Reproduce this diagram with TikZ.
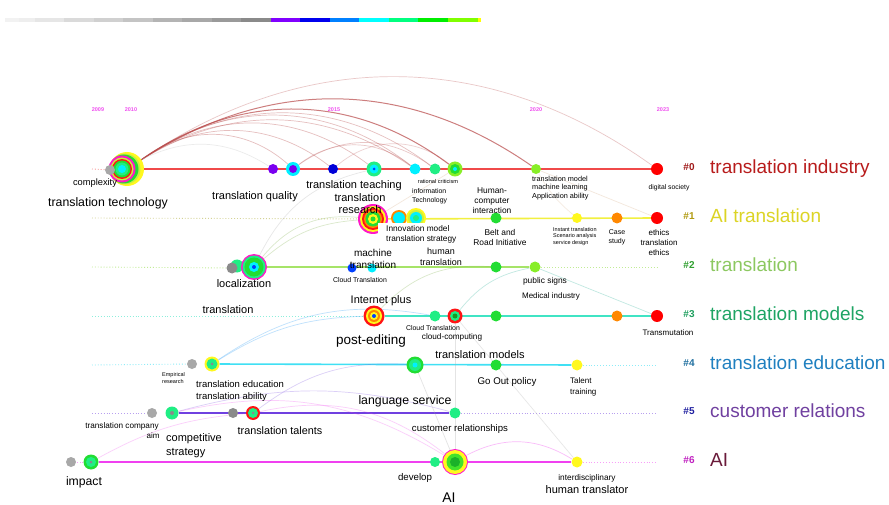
\documentclass[tikz,border=0pt]{standalone}
\usepackage{fontspec}
\setmainfont{Liberation Sans}
\pgfdeclarelayer{back}
\pgfdeclarelayer{bg}
\pgfsetlayers{back,bg,main}
\newcommand\fs[2]{\fontsize{#1}{#2}\selectfont}
\newcommand\cnode[5]{%
  \foreach \rr/\cc in {#5}{\fill[fill=\cc] (#2,#3) circle[radius=\rr pt];}%
  \node[circle,inner sep=0pt,minimum size=2*#4pt] (#1) at (#2,#3) {};}
\definecolor{cYel}{HTML}{FFF81E}
\definecolor{cLime}{HTML}{C8F040}
\definecolor{cGrn}{HTML}{22DD33}
\definecolor{cRed}{HTML}{FF1414}
\definecolor{cMag}{HTML}{FF18C8}
\definecolor{cSpr}{HTML}{20EE84}
\definecolor{cCyan}{HTML}{00F0FF}
\definecolor{cBlue}{HTML}{0040FF}
\definecolor{cPur}{HTML}{7A00F0}
\definecolor{cDblue}{HTML}{0000D8}
\definecolor{cOra}{HTML}{FF8800}
\definecolor{cGray}{HTML}{A8A8A8}
\definecolor{cDgray}{HTML}{8A8A8A}
\definecolor{cLgrn}{HTML}{88EE28}
\definecolor{yrmag}{HTML}{F050F0}
\definecolor{arcred}{HTML}{B84848}
\definecolor{k0}{HTML}{A01818}\definecolor{k0n}{HTML}{B81C1C}
\definecolor{k1}{HTML}{B09A10}\definecolor{k1n}{HTML}{DCD424}
\definecolor{k2}{HTML}{30A030}\definecolor{k2n}{HTML}{8CC860}
\definecolor{k3}{HTML}{20A060}\definecolor{k3n}{HTML}{1EA464}
\definecolor{k4}{HTML}{2070A0}\definecolor{k4n}{HTML}{1F80C0}
\definecolor{k5}{HTML}{2020A0}\definecolor{k5n}{HTML}{7040A0}
\definecolor{k6}{HTML}{C020C0}\definecolor{k6n}{HTML}{6A1A3A}
\definecolor{t0}{HTML}{F04A4A}
\definecolor{t1}{HTML}{F2F040}
\definecolor{t2}{HTML}{A6E468}
\definecolor{t3}{HTML}{40E4C4}
\definecolor{t4}{HTML}{40E0F4}
\definecolor{t5}{HTML}{7040E0}
\definecolor{t6}{HTML}{F040F0}
\begin{document}
\begin{tikzpicture}[x=1pt,y=-1pt,
  lb/.style={inner sep=0pt,align=center,text=black},
  yr/.style={inner sep=0pt,font=\fs{5.5}{6}\bfseries,text=yrmag},
  hk/.style={inner sep=0pt,anchor=base,font=\fs{10}{12}\bfseries},
  cn/.style={inner sep=0pt,anchor=base west,font=\fs{19}{22}},
  tl/.style={line width=1.6pt},
  dt/.style={line width=0.9pt,dotted},
  arc0/.style={draw=arcred,line width=0.7pt,opacity=0.35},
  arcd/.style={draw=arcred,line width=1pt,opacity=0.7},
  fnt/.style={line width=0.7pt,opacity=0.3}]
\useasboundingbox (0,0) rectangle (889,505);
\begin{pgfonlayer}{back}
\fill[white] (0,0) rectangle (889,505);
\end{pgfonlayer}
% colour bar
\fill[fill={rgb,255:red,242;green,242;blue,242}] (4.7,18) rectangle (19.3,21.7);
\fill[fill={rgb,255:red,238;green,238;blue,238}] (19.3,18) rectangle (34.7,21.7);
\fill[fill={rgb,255:red,230;green,230;blue,230}] (34.7,18) rectangle (64,21.7);
\fill[fill={rgb,255:red,218;green,218;blue,218}] (64,18) rectangle (93.7,21.7);
\fill[fill={rgb,255:red,208;green,208;blue,208}] (93.7,18) rectangle (123.3,21.7);
\fill[fill={rgb,255:red,196;green,196;blue,196}] (123.3,18) rectangle (152.7,21.7);
\fill[fill={rgb,255:red,180;green,180;blue,180}] (152.7,18) rectangle (182.3,21.7);
\fill[fill={rgb,255:red,168;green,168;blue,168}] (182.3,18) rectangle (211.7,21.7);
\fill[fill={rgb,255:red,154;green,154;blue,154}] (211.7,18) rectangle (241.3,21.7);
\fill[fill={rgb,255:red,138;green,138;blue,138}] (241.3,18) rectangle (270.7,21.7);
\fill[fill={rgb,255:red,128;green,0;blue,255}] (270.7,18) rectangle (300.3,21.7);
\fill[fill={rgb,255:red,0;green,0;blue,238}] (300.3,18) rectangle (329.7,21.7);
\fill[fill={rgb,255:red,0;green,128;blue,255}] (329.7,18) rectangle (359.3,21.7);
\fill[fill={rgb,255:red,0;green,255;blue,255}] (359.3,18) rectangle (389,21.7);
\fill[fill={rgb,255:red,0;green,255;blue,128}] (389,18) rectangle (418.3,21.7);
\fill[fill={rgb,255:red,0;green,238;blue,0}] (418.3,18) rectangle (448,21.7);
\fill[fill={rgb,255:red,128;green,255;blue,0}] (448,18) rectangle (477.7,21.7);
\fill[fill={rgb,255:red,255;green,255;blue,0}] (477.7,18) rectangle (481.3,21.7);
% years
\node[yr] (y09) at (98,110) {2009};
\node[yr] (y10) at (131,110) {2010};
\node[yr] (y15) at (334,110) {2015};
\node[yr] (y20) at (536,110) {2020};
\node[yr] (y23) at (663,110) {2023};
% line end coordinates
\foreach \k/\yy in {0/169,1/218,2/267,3/316,4/365,5/413,6/462}{
  \coordinate (s\k) at (92,\yy); \coordinate (e\k) at (657,\yy);}
% ---------- row 0 nodes
\fill[cYel] (127,169) circle[radius=17pt];
\fill[cLime] (125,169) circle[radius=15.5pt];
\fill[cGrn] (124,169) circle[radius=14.5pt];
\cnode{big0}{122}{169}{13.5}{13.5/cMag,11.5/cLime,10/cRed,8.5/cGrn,6.5/cSpr,4/cCyan}
\cnode{g0a}{110}{170}{5}{5/cGray}
\cnode{n0b}{273}{169}{5}{5/cPur}
\cnode{n0c}{293}{169}{7}{7/cCyan,4/cPur}
\cnode{n0d}{333}{169}{5}{5/cDblue}
\cnode{n0e}{374}{169}{7.5}{7.5/cSpr,4.5/cCyan,1.5/cBlue}
\cnode{n0f}{415}{169}{5.5}{5.5/cCyan}
\cnode{n0g}{435}{169}{5.5}{5.5/cSpr}
\cnode{n0h}{455}{169}{7.5}{7.5/cLgrn,5/cGrn,2/cCyan}
\cnode{n0i}{536}{169}{5}{5/cLgrn}
\cnode{n0j}{657}{169}{6}{6/red}
\coordinate (a0) at (141,160);
% ---------- row 1 nodes
\cnode{big1}{373}{219}{15}{15/cMag,13/cYel,11/cRed,9/cOra,7.5/cGrn,5/cYel,2.5/cGrn}
\cnode{n1b}{399}{218}{8}{8/cOra,6/cCyan}
\cnode{n1c}{416}{218}{10}{10/cYel,8/cLime,6/cCyan,3/cSpr}
\cnode{n1d}{496}{218}{5.5}{5.5/cGrn}
\cnode{n1e}{577}{218}{5}{5/cYel}
\cnode{n1f}{617}{218}{5.5}{5.5/cOra}
\cnode{n1g}{657}{218}{6}{6/red}
% ---------- row 2 nodes
\cnode{n2s}{237}{266}{6.5}{6.5/cSpr}
\cnode{g2a}{232}{268}{5.5}{5.5/cDgray}
\cnode{big2}{254}{267}{13}{13/cMag,11.5/cSpr,9.5/cGrn,5/cCyan,2/cBlue}
\cnode{n2b}{352}{268}{4.5}{4.5/cBlue}
\cnode{n2c}{372}{268}{4.5}{4.5/cCyan}
\cnode{n2d}{496}{267}{5.5}{5.5/cGrn}
\cnode{n2e}{535}{267}{5.5}{5.5/cLgrn}
% ---------- row 3 nodes
\cnode{big3}{374}{316}{10.5}{10.5/cRed,8/cYel,6/cOra,4/cYel,2/cBlue}
\cnode{n3b}{435}{316}{5.5}{5.5/cSpr}
\cnode{n3c}{455}{316}{7.5}{7.5/cRed,5/cSpr,2.5/cGrn!70!black}
\cnode{n3d}{496}{316}{5.5}{5.5/cGrn}
\cnode{n3e}{617}{316}{5.5}{5.5/cOra}
\cnode{n3f}{657}{316}{6}{6/red}
% ---------- row 4 nodes
\cnode{g4a}{192}{364}{5}{5/cGray}
\cnode{n4b}{212}{364}{7.5}{7.5/cYel,5.5/cSpr,1.5/cDgray}
\cnode{n4c}{415}{365}{8.5}{8.5/cGrn,6/cSpr,2.5/cCyan}
\cnode{n4d}{496}{365}{5.5}{5.5/cGrn}
\cnode{n4e}{577}{365}{5.5}{5.5/cYel}
% ---------- row 5 nodes
\cnode{g5a}{152}{413}{5}{5/cGray}
\cnode{n5b}{172}{413}{6.5}{6.5/cSpr,2/cDgray}
\cnode{g5c}{233}{413}{5}{5/cDgray}
\cnode{n5d}{253}{413}{7}{7/cRed,5/cSpr,1.5/cDgray}
\cnode{n5e}{455}{413}{5.5}{5.5/cSpr}
% ---------- row 6 nodes
\cnode{g6a}{71}{462}{5}{5/cGray}
\cnode{n6b}{91}{462}{7.5}{7.5/cGrn,5/cSpr,1.5/cDgray}
\cnode{n6c}{435}{462}{5}{5/cSpr}
\cnode{big6}{455}{462}{13}{13/cMag,12/cYel,8.5/cGrn!85!yellow,5/cGrn!80!black}
\cnode{n6e}{577}{462}{5.5}{5.5/cYel}
% ---------- labels row 0
\node[lb,font=\fs{9.3}{11}] (lCx) at (95,183) {complexity};
\node[lb,font=\fs{12.3}{14}] (lTT) at (108,203) {translation technology};
\node[lb,font=\fs{11}{13}] (lTQ) at (255,197) {translation quality};
\node[lb,font=\fs{11}{13}] (lTTe) at (354,186) {translation teaching};
\node[lb,font=\fs{11}{13}] (lTr) at (360,197.5) {translation};
\node[lb,font=\fs{11}{13}] (lRe) at (360,210) {research};
\node[lb,font=\fs{5.6}{7}] (lRC) at (438,181) {rational criticism};
\node[lb,align=left,anchor=west,font=\fs{6.9}{9}] (lIT) at (412,196.5) {information\\Technology};
\node[lb,font=\fs{8.4}{10.3}] (lHCI) at (492,200.5) {Human-\\computer\\interaction};
\node[lb,align=left,anchor=west,font=\fs{7.3}{8.5}] (lTMl) at (532,188) {translation model\\machine learning\\Application ability};
\node[lb,font=\fs{6.8}{8}] (lDS) at (669,188) {digital society};
% ---------- labels row 1
\node[lb,align=left,anchor=north west,fill=white,inner xsep=8pt,inner ysep=3pt,font=\fs{8.3}{10}] (lIM) at (378,222.5) {Innovation model\\translation strategy};
\node[lb,font=\fs{8.4}{10}] (lBR) at (500,237) {Belt and\\Road Initiative};
\node[lb,align=left,anchor=west,font=\fs{5.5}{6.5}] (lIS) at (553,236.5) {Instant translation\\Scenario analysis\\service design};
\node[lb,font=\fs{7}{9}] (lCS) at (617,237.5) {Case\\study};
\node[lb,font=\fs{8}{10}] (lEth) at (659,243) {ethics\\translation\\ethics};
% ---------- labels row 2
\node[lb,font=\fs{11}{13}] (lLoc) at (244,283.5) {localization};
\node[lb,font=\fs{10}{11.5}] (lMT) at (373,259) {machine\\translation};
\node[lb,font=\fs{9}{11}] (lHT) at (441,256.5) {human\\translation};
\node[lb,font=\fs{6.9}{8}] (lCT) at (360,280) {Cloud Translation};
\node[lb,font=\fs{8.4}{10}] (lPS) at (545,281) {public signs};
\node[lb,font=\fs{8}{10}] (lMI) at (551,296) {Medical industry};
% ---------- labels row 3
\node[lb,fill=white,inner xsep=3pt,inner ysep=2pt,font=\fs{11}{13}] (lTr3) at (228,309.5) {translation};
\node[lb,font=\fs{11}{13}] (lIP) at (381,301) {Internet plus};
\node[lb,font=\fs{13.5}{15}] (lPE) at (371,341) {post-editing};
\node[lb,font=\fs{6.9}{8}] (lCT3) at (433,328) {Cloud Translation};
\node[lb,font=\fs{8.2}{10}] (lCC) at (452,337) {cloud-computing};
\node[lb,font=\fs{8}{10}] (lTrm) at (668,333) {Transmutation};
% ---------- labels row 4
\node[lb,align=left,anchor=west,font=\fs{5.5}{7}] (lER) at (162,378.5) {Empirical\\research};
\node[lb,align=left,anchor=west,font=\fs{9.5}{12}] (lTE) at (196,391) {translation education\\translation ability};
\node[lb,font=\fs{11}{13}] (lTMo) at (480,355) {translation models};
\node[lb,font=\fs{9.7}{11}] (lGO) at (507,382) {Go Out policy};
\node[lb,align=left,anchor=west,font=\fs{8}{11}] (lTa) at (570,386.5) {Talent\\training};
% ---------- labels row 5
\node[lb,font=\fs{8.2}{10}] (lTC) at (122,426) {translation company};
\node[lb,font=\fs{8}{10}] (lAim) at (153,436) {aim};
\node[lb,align=left,anchor=west,font=\fs{11}{14}] (lCo) at (166,446) {competitive\\strategy};
\node[lb,font=\fs{10.8}{13}] (lTal) at (280,431) {translation talents};
\node[lb,font=\fs{12.3}{14}] (lLS) at (405,401) {language service};
\node[lb,font=\fs{9.6}{11}] (lCR) at (460,429) {customer relationships};
% ---------- labels row 6
\node[lb,font=\fs{12.2}{14}] (lImp) at (84,482) {impact};
\node[lb,font=\fs{9.7}{11}] (lDev) at (415,478) {develop};
\node[lb,font=\fs{14}{16}] (lAI) at (449,498) {AI};
\node[lb,font=\fs{8.3}{10}] (lID) at (587,478) {interdisciplinary};
\node[lb,font=\fs{11}{13}] (lHTr) at (587,490) {human translator};
% ---------- cluster labels
\node[hk,text=k0] (h0) at (689,170.5) {\#0};
\node[cn,text=k0n] (c0) at (710,173.5) {translation industry};
\node[hk,text=k1] (h1) at (689,219.5) {\#1};
\node[cn,text=k1n] (c1) at (710,222.5) {AI translation};
\node[hk,text=k2] (h2) at (689,268.5) {\#2};
\node[cn,text=k2n] (c2) at (710,271.5) {translation};
\node[hk,text=k3] (h3) at (689,317.5) {\#3};
\node[cn,text=k3n] (c3) at (710,320.5) {translation models};
\node[hk,text=k4] (h4) at (689,366.5) {\#4};
\node[cn,text=k4n] (c4) at (710,369.5) {translation education};
\node[hk,text=k5] (h5) at (689,414.5) {\#5};
\node[cn,text=k5n] (c5) at (710,417.5) {customer relations};
\node[hk,text=k6] (h6) at (689,463.5) {\#6};
\node[cn,text=k6n] (c6) at (710,466.5) {AI};
% ---------- background: timelines and links
\begin{pgfonlayer}{bg}
\draw[dt,t0!60] (s0) -- (g0a);
\draw[tl,t0] (big0) -- (n0j);
\draw[dt,t1!70!black!50] (s1) -- (big1);
\draw[tl,t1] (big1) -- (n1g);
\draw[dt,t2!70] (s2) -- (g2a);
\draw[tl,t2] (big2) -- (n2e);
\draw[dt,t2!70] (n2e) -- (e2);
\draw[dt,t3!60] (s3) -- (big3);
\draw[tl,t3] (big3) -- (n3f);
\draw[dt,t4!60] (s4) -- (g4a);
\draw[tl,t4] (n4b) -- (n4e);
\draw[dt,t4!60] (n4e) -- (e4);
\draw[dt,t5!50] (s5) -- (g5a);
\draw[tl,t5] (n5b) -- (n5e);
\draw[dt,t5!50] (n5e) -- (e5);
\draw[dt,t6!50] (s6) -- (g6a);
\draw[tl,t6] (n6b) -- (n6e);
\draw[dt,t6!50] (n6e) -- (e6);
% arcs of cluster 0
\draw[arc0] (a0) to[bend left=40] (n0c);
\draw[arc0] (a0) to[bend left=36] (n0d);
\draw[arc0] (a0) to[bend left=36] (n0e);
\draw[arc0] (a0) to[bend left=37] (n0f);
\draw[arc0] (a0) to[bend left=33] (n0f);
\draw[arc0] (a0) to[bend left=36] (n0g);
\draw[arcd] (a0) to[bend left=36] (n0h);
\draw[arcd] (a0) to[bend left=34] (n0i);
\draw[arc0,opacity=0.3] (a0) to[bend left=35] (n0j);
\draw[arc0,opacity=0.3] (n0c) to[bend left=38] (n0f);
\draw[arc0,opacity=0.3] (n0c) to[bend left=36] (n0g);
\draw[arc0,opacity=0.25] (n0d) to[bend left=40] (n0h);
\draw[fnt,draw=gray!50] (a0) to[bend left=30] (n0b);
% cross links
\draw[fnt,draw=t2!80!black] (big2) to[bend left=18] (big1);
\draw[fnt,draw=t2!80!black] (big2) to[bend left=28] (big1);
\draw[fnt,draw=gray!60] (big2) to[bend left=25] (n0e);
\draw[fnt,draw=brown!60] (n0i) -- (n1g);
\draw[fnt,draw=brown!60] (big1) -- (n0h);
\draw[fnt,draw=brown!50] (n1e) to[bend left=10] (n0i);
\draw[fnt,draw=t3!80!black] (n2e) -- (n3f);
\draw[fnt,draw=t3!80!black] (n3c) to[bend left=20] (n2e);
\draw[fnt,draw=t2!80!black] (big3) to[bend left=25] (n2d);
\draw[fnt,draw=t4!70!blue] (n4b) to[bend left=15] (big3);
\draw[fnt,draw=t4!70!blue] (n4b) to[bend left=22] (n3b);
\draw[fnt,draw=t5,opacity=0.25] (n5b) to[bend left=15] (n5e);
\draw[fnt,draw=t5,opacity=0.25] (n5d) to[bend left=20] (n4c);
\draw[fnt,draw=t6,opacity=0.25] (n6b) to[bend left=12] (n5d);
\draw[fnt,draw=t6,opacity=0.25] (n5b) to[bend left=22] (big6);
\draw[fnt,draw=t6,opacity=0.25] (n5d) to[bend left=25] (big6);
\draw[fnt,draw=t6,opacity=0.35] (big6) to[bend left=30] (n6e);
\draw[fnt,draw=gray!70] (n4c) -- (big6);
\draw[fnt,draw=gray!70] (n3c) -- (big6);
\draw[fnt,draw=gray!60] (n3c) -- (n6e);
\end{pgfonlayer}
\end{tikzpicture}
\end{document}
